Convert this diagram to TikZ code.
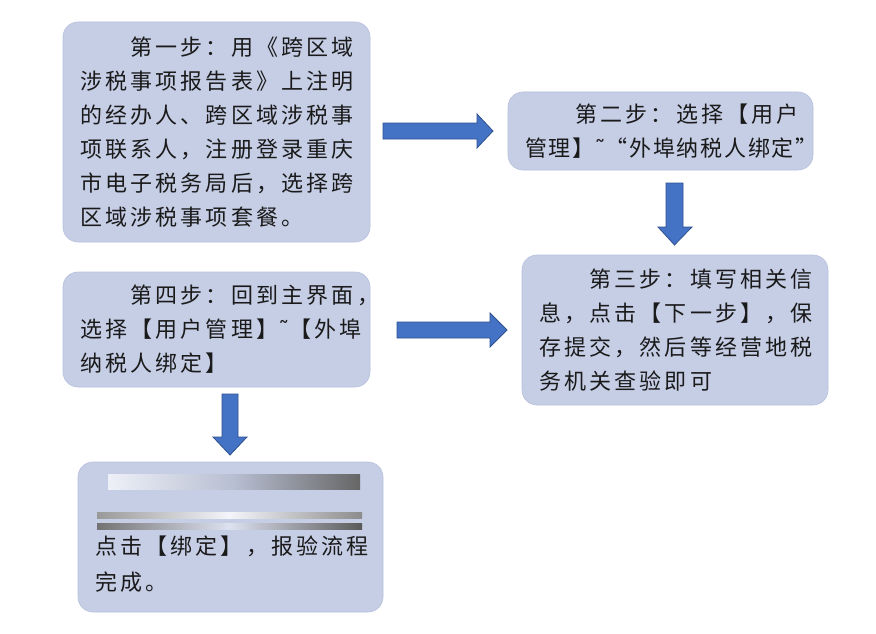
\documentclass[tikz,border=0pt]{standalone}
\usepackage{fontspec}
\newfontfamily\cjk[LetterSpace=14.5]{Noto Sans CJK SC}
\newfontfamily\cjktight[LetterSpace=8]{Noto Sans CJK SC}
\newfontfamily\djv{DejaVu Sans}
\definecolor{boxfill}{HTML}{C6CEE6}
\definecolor{boxedge}{HTML}{B7C1DC}
\definecolor{arrowblue}{HTML}{4472C4}
\definecolor{arrowedge}{HTML}{2F528F}
\definecolor{txt}{HTML}{1A1A1A}
\tikzset{
  stepbox/.style={rectangle, rounded corners=15pt, fill=boxfill, draw=boxedge,
    line width=0.6pt, inner xsep=17pt, inner ysep=0pt, align=left, text=txt,
    font=\cjk\fontsize{22}{34}\selectfont},
  blockarrow/.style={fill=arrowblue, draw=arrowedge, line width=0.8pt, line join=miter}
}
\begin{document}
\begin{tikzpicture}[x=1pt,y=-1pt]
\useasboundingbox (0,0) rectangle (876,634);
\fill[white] (0,0) rectangle (876,634);

\node[stepbox, text width=273pt, minimum height=220pt] (s1) at (216.5,132)
  {　　第一步：用《跨区域\\涉税事项报告表》上注明\\的经办人、跨区域涉税事\\项联系人，注册登录重庆\\市电子税务局后，选择跨\\区域涉税事项套餐。};
\node[stepbox, text width=271pt, minimum height=78pt] (s2) at (660.5,131)
  {　　第二步：选择【用户\\{\cjktight 管理】{\djv ˜}“外埠纳税人绑定”}};
\node[stepbox, text width=272pt, minimum height=150pt] (s3) at (675,330)
  {　　第三步：填写相关信\\息，点击【下一步】，保\\存提交，然后等经营地税\\务机关查验即可};
\node[stepbox, text width=273pt, minimum height=115pt] (s4) at (216.5,329.5)
  {　　第四步：回到主界面，\\选择【用户管理】{\djv ˜}【外埠\\纳税人绑定】};
\node[stepbox, text width=271pt, minimum height=150pt,
      font=\cjk\fontsize{22}{36}\selectfont] (s5) at (230.5,537)
  {\mbox{}\\\mbox{}\\点击【绑定】，报验流程\\完成。};

% blurred lines in the last box
\shade[left color=boxfill!30!white, right color=black!60, middle color=boxfill!80!gray] (108,474) rectangle (360,489);
\shade[left color=black!40, right color=black!45, middle color=boxfill!20!white] (97,512) rectangle (362,518);
\shade[left color=black!55, right color=black!65, middle color=boxfill!60!white] (97,523) rectangle (362,529);

% block arrows
\draw[blockarrow] (383,123) -- (477,123) -- (477,114) -- (493,131) -- (477,148) -- (477,139) -- (383,139) -- cycle;
\draw[blockarrow] (397,322) -- (490,322) -- (490,313) -- (507,330) -- (490,347) -- (490,338) -- (397,338) -- cycle;
\draw[blockarrow] (666,183) -- (683,183) -- (683,227) -- (692,227) -- (674.5,245) -- (658,227) -- (666,227) -- cycle;
\draw[blockarrow] (222,394) -- (238,394) -- (238,437) -- (247,437) -- (230,455) -- (213,437) -- (222,437) -- cycle;
\end{tikzpicture}
\end{document}
